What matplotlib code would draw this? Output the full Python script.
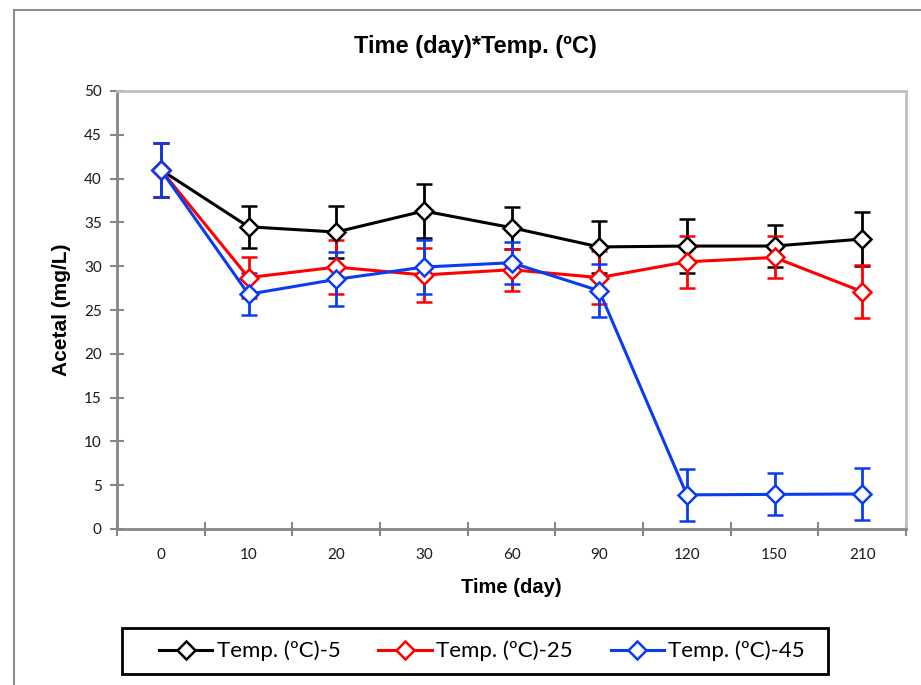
import numpy as np
import matplotlib.pyplot as plt
from matplotlib.patches import Rectangle
from matplotlib.lines import Line2D

# data
days = ['0', '10', '20', '30', '60', '90', '120', '150', '210']

temp5 = [41.0, 34.5, 33.9, 36.3, 34.4, 32.2, 32.3, 32.3, 33.1]
temp5_err = [3.1, 2.4, 3.0, 3.1, 2.4, 3.0, 3.1, 2.4, 3.1]

temp25 = [41.0, 28.7, 29.9, 29.0, 29.6, 28.7, 30.5, 31.0, 27.1]
temp25_err = [3.1, 2.3, 3.1, 3.1, 2.4, 3.0, 3.0, 2.4, 3.0]

temp45 = [41.0, 26.8, 28.5, 29.9, 30.4, 27.2, 3.9, 3.95, 4.0]
temp45_err = [3.1, 2.4, 3.1, 3.1, 2.4, 3.0, 3.0, 2.4, 3.0]

series = [
	('Temp. (ºC)-5', temp5, temp5_err, '#000000'),
	('Temp. (ºC)-25', temp25, temp25_err, '#ff0000'),
	('Temp. (ºC)-45', temp45, temp45_err, '#0a3cf0'),
]

fig = plt.figure(figsize=(9.21, 6.85), dpi=100)

# outer chart border
fig.patches.append(Rectangle((14/921, -0.1), 1.0, 1 - 10/685 + 0.1, transform=fig.transFigure,
	fill=False, edgecolor='#8c8c8c', linewidth=1.5))

ax = fig.add_axes([117/921, 1 - 529/685, (906-117)/921, (529-91)/685])

x = np.arange(len(days))
for name, vals, err, col in series:
	ax.errorbar(x, vals, yerr=err, color=col, linewidth=2.2, elinewidth=2.0,
		capsize=6, capthick=2.0, marker='D', markersize=9,
		markerfacecolor='white', markeredgecolor=col, markeredgewidth=1.8, label=name)

ax.set_xlim(-0.5, len(days) - 0.5)
ax.set_ylim(0, 50)
ax.set_yticks(range(0, 51, 5))
ax.set_xticks(x)
ax.set_xticklabels(days)
ax.set_xticks(np.arange(-0.5, len(days), 1), minor=True)
ax.tick_params(axis='x', which='major', length=0, pad=14)
ax.tick_params(axis='x', which='minor', direction='inout', length=10, width=1.5, color='#868686')
ax.tick_params(axis='y', direction='inout', length=10, width=1.5, color='#868686', pad=6)
for lab in ax.get_xticklabels() + ax.get_yticklabels():
	lab.set_fontfamily('Lato')
	lab.set_fontsize(11)
	lab.set_color('#1a1a1a')

for s in ['left', 'bottom']:
	ax.spines[s].set_color('#868686')
	ax.spines[s].set_linewidth(2)
for s in ['top', 'right']:
	ax.spines[s].set_color('#c0c0c0')
	ax.spines[s].set_linewidth(2)

ax.set_xlabel('Time (day)', fontfamily='Liberation Sans', fontweight='bold', fontsize=14.5, labelpad=11)
ax.set_ylabel('Acetal (mg/L)', fontfamily='Liberation Sans', fontweight='bold', fontsize=15, labelpad=9)
fig.text(475/921, 1 - 46/685, 'Time (day)*Temp. (ºC)', ha='center', va='center',
	fontfamily='Liberation Sans', fontweight='bold', fontsize=17)

# legend box drawn separately so it can be wider than its contents
fig.patches.append(Rectangle((122/921, 1 - 674/685), (828-122)/921, 46/685, transform=fig.transFigure,
	fill=False, edgecolor='black', linewidth=2))

handles = [Line2D([], [], color=col, linewidth=2.2, marker='D', markersize=9,
	markerfacecolor='white', markeredgecolor=col, markeredgewidth=1.8) for _, _, _, col in series]
fig.legend(handles, [s[0] for s in series], loc='center', bbox_to_anchor=(482/921, 1 - 651/685),
	ncol=3, frameon=False, handlelength=2.4, handletextpad=0.2,
	columnspacing=1.7, borderpad=0, borderaxespad=0, prop={'family': 'Lato', 'size': 16})

fig.savefig('out.png', dpi=100)
